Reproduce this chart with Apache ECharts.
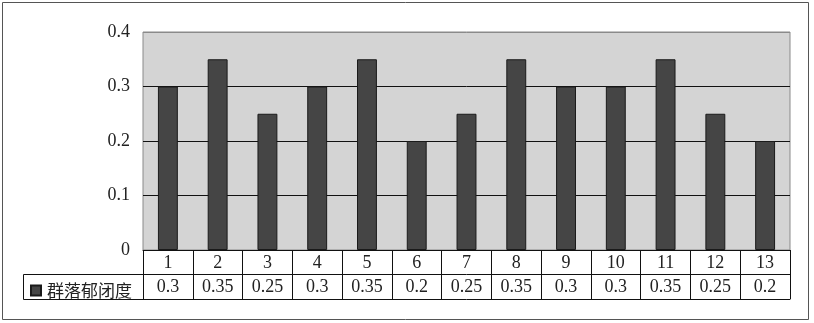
<!DOCTYPE html>
<html><head><meta charset="utf-8">
<script src="https://cdn.jsdelivr.net/npm/echarts@6/dist/echarts.min.js"></script>
<style>html,body{margin:0;padding:0;background:#fff}#c{width:814px;height:323px}</style>
</head><body><div id="c"></div>
<script>
const categories = ['1','2','3','4','5','6','7','8','9','10','11','12','13'];
const seriesName = '群落郁闭度';
const values = [0.3,0.35,0.25,0.3,0.35,0.2,0.25,0.35,0.3,0.3,0.35,0.25,0.2];
const yTicks = [0,0.1,0.2,0.3,0.4];

const FONT = "'Liberation Serif','Noto Sans CJK SC',serif";
const chart = echarts.init(document.getElementById('c'));
chart.setOption({
  animation:false,
  backgroundColor:'#fff',
  grid:{left:143,right:24,top:32,bottom:73,show:true,backgroundColor:'#d4d4d4',borderColor:'#8a8a8a',borderWidth:1},
  legend:{show:true,left:25,top:277,itemWidth:10,itemHeight:10,itemGap:0,icon:'rect',
    textStyle:{fontFamily:"'Noto Sans CJK SC',sans-serif",fontSize:17,color:'#222',padding:[0,0,0,1]},
    data:[seriesName]},
  xAxis:[
    {type:'category',data:categories,position:'bottom',
      axisLine:{show:true,lineStyle:{color:'#111',width:1}},
      axisTick:{show:true,length:49,lineStyle:{color:'#111',width:1}},
      axisLabel:{fontFamily:FONT,fontSize:18,color:'#222',margin:4},
      splitLine:{show:false}},
    {type:'category',data:values.map(v=>String(v)),position:'bottom',offset:24,
      axisLine:{show:true,lineStyle:{color:'#111',width:1}},
      axisTick:{show:false},
      axisLabel:{fontFamily:FONT,fontSize:18,color:'#222',margin:4},
      splitLine:{show:false}},
    {type:'category',data:categories,position:'bottom',offset:49,
      axisLine:{show:true,lineStyle:{color:'#111',width:1}},
      axisTick:{show:false},axisLabel:{show:false},splitLine:{show:false}}
  ],
  yAxis:{type:'value',min:yTicks[0],max:yTicks[yTicks.length-1],interval:0.1,
    axisLine:{show:false},axisTick:{show:false},
    axisLabel:{fontFamily:FONT,fontSize:18,color:'#222',margin:13,
      formatter:v=>v===0?'0':v.toFixed(1)},
    splitLine:{show:true,lineStyle:{color:['#111','#111','#111','#111','#8a8a8a'],width:1}}},
  series:[{name:seriesName,type:'bar',xAxisIndex:0,data:values,barWidth:'40%',
    itemStyle:{color:'#454545',borderColor:'#1a1a1a',borderWidth:1}}],
  graphic:[
    {type:'rect',shape:{x:2.5,y:2.5,width:806,height:317},style:{fill:null,stroke:'#555',lineWidth:1},silent:true,z:-1},
    {type:'rect',shape:{x:23.5,y:274.5,width:120,height:25},style:{fill:null,stroke:'#111',lineWidth:1},silent:true}
  ]
});
</script></body></html>
